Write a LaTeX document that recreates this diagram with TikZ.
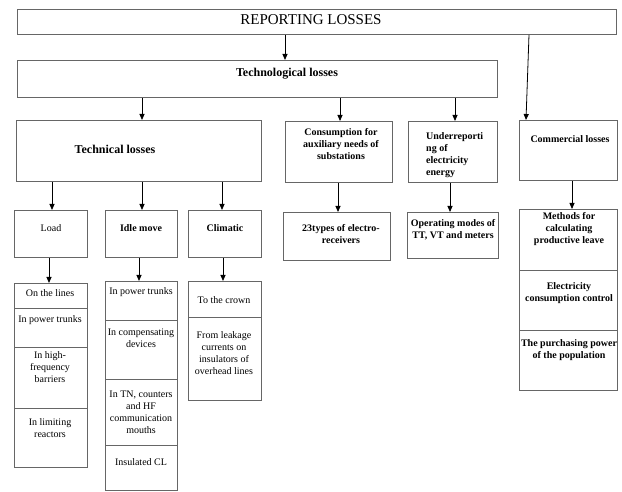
\documentclass[tikz,border=0pt]{standalone}
\usepackage{fontspec}
\setmainfont{Liberation Serif}
\usetikzlibrary{arrows.meta}

\tikzset{
  box/.style={draw=black!60, line width=0.8pt, anchor=north west, inner sep=0pt},
  txt/.style={inner sep=0pt, align=center, font=\fontsize{10}{12}\selectfont},
  btxt/.style={txt, font=\fontsize{10}{12}\selectfont\bfseries},
  arr/.style={draw, line width=0.8pt, -{Triangle[length=6pt, width=5pt]}}
}

\begin{document}
\begin{tikzpicture}[x=1pt, y=-1pt]
  \useasboundingbox (0,0) rectangle (622,492);

  % upper levels
  \node[box, minimum width=599pt, minimum height=25pt] (rep) at (17,9) {};
  \node[box, minimum width=480pt, minimum height=37pt] (techno) at (17,60) {};
  \node[box, minimum width=245pt, minimum height=61pt] (technical) at (16,120) {};
  \node[box, minimum width=107pt, minimum height=61pt] (consump) at (285,121) {};
  \node[box, minimum width=89pt, minimum height=61pt] (underrep) at (408,121) {};
  \node[box, minimum width=98pt, minimum height=60pt] (commerc) at (519,120) {};

  \node[txt, font=\fontsize{15}{17}\selectfont] (repT) at (311,20) {REPORTING LOSSES};
  \node[btxt, font=\fontsize{12}{14}\selectfont\bfseries] (technoT) at (287,74) {Technological losses};
  \node[btxt, font=\fontsize{12}{14}\selectfont\bfseries] (technicalT) at (115,149) {Technical losses};
  \node[btxt] (consumpT) at (341,144) {Consumption for\\auxiliary needs of\\substations};
  \node[btxt, anchor=west, align=left] (underrepT) at (426,155) {Underreporti\\ng of\\electricity\\energy};
  \node[btxt] (commercT) at (570,139) {Commercial losses};

  % third level
  \node[box, minimum width=73pt, minimum height=47pt] (load) at (14,210) {};
  \node[box, minimum width=72pt, minimum height=47pt] (idle) at (105,210) {};
  \node[box, minimum width=73pt, minimum height=47pt] (clim) at (188,210) {};
  \node[box, minimum width=107pt, minimum height=48pt] (types) at (283,212) {};
  \node[box, minimum width=91pt, minimum height=46pt] (modes) at (407,212) {};

  \node[txt] (loadT) at (51,228) {Load};
  \node[btxt] (idleT) at (141,228) {Idle move};
  \node[btxt] (climT) at (225,228) {Climatic};
  \node[btxt] (typesT) at (341,234) {23types of electro-\\receivers};
  \node[btxt] (modesT) at (453,230) {Operating modes of\\TT, VT and meters};

  % commercial column
  \node[box, minimum width=98pt, minimum height=61pt] (methods) at (519,209) {};
  \node[box, minimum width=98pt, minimum height=60pt] (control) at (519,270) {};
  \node[box, minimum width=98pt, minimum height=60pt] (power) at (519,330) {};
  \node[btxt] (methodsT) at (569,229) {Methods for\\calculating\\productive leave};
  \node[btxt] (controlT) at (569,293) {Electricity\\consumption control};
  \node[btxt] (powerT) at (569,350) {The purchasing power\\of the population};

  % load column
  \node[box, minimum width=73pt, minimum height=25pt] (load1) at (14,283) {};
  \node[box, minimum width=73pt, minimum height=39pt] (load2) at (14,308) {};
  \node[box, minimum width=73pt, minimum height=61pt] (load3) at (14,347) {};
  \node[box, minimum width=73pt, minimum height=59pt] (load4) at (14,408) {};
  \node[txt] (load1T) at (50,293) {On the lines};
  \node[txt] (load2T) at (50,320) {In power trunks};
  \node[txt] (load3T) at (50,367) {In high-\\frequency\\barriers};
  \node[txt] (load4T) at (50,428) {In limiting\\reactors};

  % idle move column
  \node[box, minimum width=72pt, minimum height=39pt] (idle1) at (105,281) {};
  \node[box, minimum width=72pt, minimum height=59pt] (idle2) at (105,320) {};
  \node[box, minimum width=72pt, minimum height=66pt] (idle3) at (105,379) {};
  \node[box, minimum width=72pt, minimum height=45pt] (idle4) at (105,445) {};
  \node[txt] (idle1T) at (141,292) {In power trunks};
  \node[txt] (idle2T) at (141,338) {In compensating\\devices};
  \node[txt] (idle3T) at (141,412) {In TN, counters\\and HF\\communication\\mouths};
  \node[txt] (idle4T) at (141,462) {Insulated CL};

  % climatic column
  \node[box, minimum width=73pt, minimum height=36pt] (clim1) at (188,281) {};
  \node[box, minimum width=73pt, minimum height=83pt] (clim2) at (188,317) {};
  \node[txt] (clim1T) at (224,300) {To the crown};
  \node[txt] (clim2T) at (224,353) {From leakage\\currents on\\insulators of\\overhead lines};

  % arrows
  \draw[arr] (rep.south -| 285,0) -- (techno.north -| 285,0);
  \draw[arr] (rep.south -| 529,0) -- (commerc.north -| 526,0);
  \draw[arr] (techno.south -| 142,0) -- (technical.north -| 142,0);
  \draw[arr] (techno.south -| 340,0) -- (consump.north -| 340,0);
  \draw[arr] (techno.south -| 455,0) -- (underrep.north -| 455,0);
  \draw[arr] (technical.south -| 52,0) -- (load.north -| 52,0);
  \draw[arr] (technical.south -| 142,0) -- (idle.north -| 142,0);
  \draw[arr] (technical.south -| 222,0) -- (clim.north -| 222,0);
  \draw[arr] (load.south -| 49,0) -- (load1.north -| 49,0);
  \draw[arr] (idle.south -| 139,0) -- (idle1.north -| 139,0);
  \draw[arr] (clim.south -| 223,0) -- (clim1.north -| 223,0);
  \draw[arr] (consump.south -| 338,0) -- (types.north -| 338,0);
  \draw[arr] (underrep.south -| 450,0) -- (modes.north -| 450,0);
  \draw[arr] (commerc.south -| 572,0) -- (methods.north -| 572,0);
\end{tikzpicture}
\end{document}
